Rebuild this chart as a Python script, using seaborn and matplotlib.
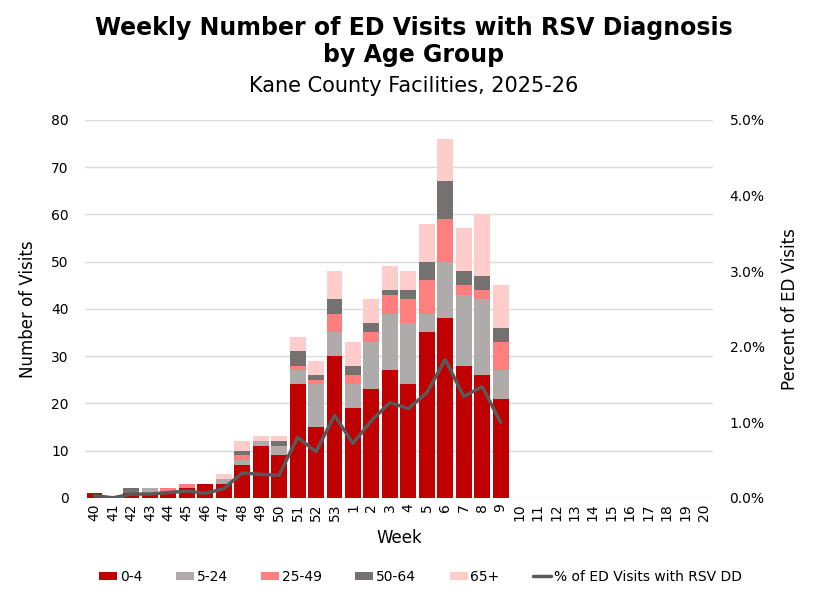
import numpy as np
import pandas as pd
import matplotlib
matplotlib.use('Agg')
import matplotlib.pyplot as plt
from matplotlib.ticker import PercentFormatter
from matplotlib.lines import Line2D
from matplotlib.patches import Patch
import seaborn as sns

# week labels for the season
weeks = [str(w) for w in range(40, 54)] + [str(w) for w in range(1, 21)]

# visits per age group (weeks 40..9 have data, rest empty)
age_0_4 = [1, 0, 1, 1, 1, 2, 3, 3, 7, 11, 9, 24, 15, 30, 19, 23, 27, 24, 35, 38, 28, 26, 21]
age_5_24 = [0, 0, 0, 1, 0, 0, 0, 1, 1, 1, 2, 3, 9, 5, 5, 10, 12, 13, 4, 12, 15, 16, 6]
age_25_49 = [0, 0, 0, 0, 1, 1, 0, 0, 1, 0, 0, 1, 1, 4, 2, 2, 4, 5, 7, 9, 2, 2, 6]
age_50_64 = [0, 0, 1, 0, 0, 0, 0, 0, 1, 0, 1, 3, 1, 3, 2, 2, 1, 2, 4, 8, 3, 3, 3]
age_65_up = [0, 0, 0, 0, 0, 0, 0, 1, 2, 1, 1, 3, 3, 6, 5, 5, 5, 4, 8, 9, 9, 13, 9]

# percent of ED visits with RSV DD
pct_rsv = [0.03, 0.0, 0.05, 0.05, 0.07, 0.09, 0.06, 0.12, 0.33, 0.31, 0.30, 0.80, 0.61,
           1.09, 0.72, 1.02, 1.26, 1.18, 1.39, 1.83, 1.34, 1.47, 1.00]

groups = ['0-4', '5-24', '25-49', '50-64', '65+']
colors = ['#C00000', '#AFABAB', '#FF7F7F', '#767171', '#FFCCCC']
line_color = '#595959'

n = len(weeks)
layers = [age_0_4, age_5_24, age_25_49, age_50_64, age_65_up]
layers = [np.pad(np.array(v, dtype=float), (0, n - len(v))) for v in layers]
cum = np.cumsum(layers, axis=0)

sns.set_theme(style='white')
plt.rcParams['font.family'] = ['DejaVu Sans']
plt.rcParams['text.color'] = 'black'
plt.rcParams['axes.labelcolor'] = 'black'
plt.rcParams['xtick.color'] = 'black'
plt.rcParams['ytick.color'] = 'black'

fig = plt.figure(figsize=(8.28, 6.02), dpi=100)
ax = fig.add_axes([0.103, 0.173, 0.758, 0.628])

# stacked bars drawn as overlaid cumulative heights, top layer first
for i in range(len(groups) - 1, -1, -1):
    df = pd.DataFrame({'week': weeks, 'visits': cum[i]})
    sns.barplot(data=df, x='week', y='visits', order=weeks, color=colors[i],
                saturation=1, width=0.86, linewidth=0, ax=ax, zorder=2)

ax.set_ylim(0, 80)
ax.set_yticks(range(0, 81, 10))
ax.set_xlim(-0.5, n - 0.5)
ax.yaxis.grid(True, color='#D9D9D9', linewidth=1, zorder=0)
ax.set_axisbelow(True)
for s in ax.spines.values():
    s.set_visible(False)
ax.tick_params(axis='both', length=0, labelsize=10)
ax.tick_params(axis='x', rotation=90, pad=4)
ax.tick_params(axis='y', pad=12)
ax.set_xlabel('Week', fontsize=12, labelpad=6)
ax.set_ylabel('Number of Visits', fontsize=12, labelpad=10)

ax2 = ax.twinx()
sns.lineplot(x=np.arange(len(pct_rsv)), y=pct_rsv, ax=ax2, color=line_color,
             linewidth=2.5, zorder=3)
ax2.set_ylim(0, 5)
ax2.set_yticks(np.arange(0, 5.01, 1))
ax2.yaxis.set_major_formatter(PercentFormatter(decimals=1))
ax2.tick_params(axis='y', length=0, labelsize=10, pad=12)
for s in ax2.spines.values():
    s.set_visible(False)
ax2.set_ylabel('Percent of ED Visits', fontsize=12, labelpad=12)
ax2.grid(False)

fig.text(0.5, 0.953, 'Weekly Number of ED Visits with RSV Diagnosis',
         ha='center', va='center', fontsize=17, fontweight='bold')
fig.text(0.5, 0.908, 'by Age Group', ha='center', va='center',
         fontsize=17, fontweight='bold')
fig.text(0.5, 0.857, 'Kane County Facilities, 2025-26', ha='center',
         va='center', fontsize=15)

handles = [Patch(facecolor=c, edgecolor='none') for c in colors]
handles.append(Line2D([0], [0], color=line_color, linewidth=2.5))
labels = groups + ['% of ED Visits with RSV DD']
fig.legend(handles, labels, loc='center', bbox_to_anchor=(0.508, 0.042), ncol=6,
           frameon=False, fontsize=10, handlelength=1.3, handleheight=0.5,
           handletextpad=0.2, columnspacing=2.4)

fig.savefig('out.png', dpi=100)
